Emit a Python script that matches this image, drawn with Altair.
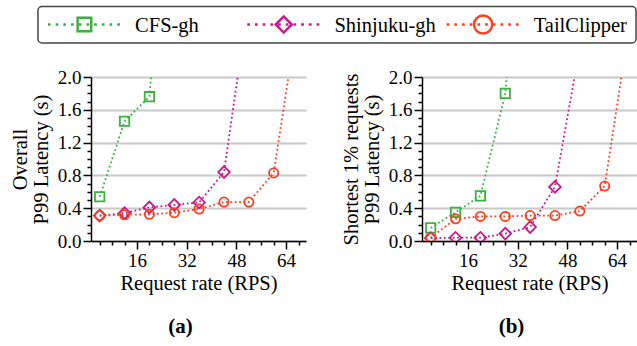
import altair as alt
import pandas as pd

series = ["CFS-gh", "Shinjuku-gh", "TailClipper"]
colors = ["#3cb043", "#c51b8a", "#ff3d1f"]
shapes = ["square", "diamond", "circle"]
marker_sizes = [88, 135, 85]
legend_marker_sizes = [185, 330, 200]
rates = [4, 12, 20, 28, 36, 44, 52, 60, 68]

overall_cfs = [0.54, 1.46, 1.76, 5.6]
overall_shinjuku = [0.31, 0.34, 0.41, 0.44, 0.47, 0.84, 2.95]
overall_tail = [0.31, 0.32, 0.325, 0.345, 0.39, 0.475, 0.475, 0.83, 2.8]
short_cfs = [0.16, 0.35, 0.55, 1.80, 5.0]
short_shinjuku = [0.035, 0.04, 0.04, 0.09, 0.17, 0.66, 2.36]
short_tail = [0.04, 0.27, 0.30, 0.30, 0.31, 0.31, 0.365, 0.67, 2.64]

x_major = [16, 32, 48, 64]
x_minor = [4, 8, 12, 20, 24, 28, 36, 40, 44, 52, 56, 60, 68]
y_major = [0.0, 0.4, 0.8, 1.2, 1.6, 2.0]
y_minor = [0.1, 0.2, 0.3, 0.5, 0.6, 0.7, 0.9, 1.0, 1.1, 1.3, 1.4, 1.5,
           1.7, 1.8, 1.9]

FONT = "Liberation Serif"


def frame(vals_list):
    rows = []
    for s, vals in zip(series, vals_list):
        for r, v in zip(rates, vals):
            rows.append({"series": s, "rate": r, "lat": v})
    return pd.DataFrame(rows)


df_a = frame([overall_cfs, overall_shinjuku, overall_tail])
df_b = frame([short_cfs, short_shinjuku, short_tail])

xs = alt.Scale(domain=[1.2, 70.4], nice=False, zero=False)
ys = alt.Scale(domain=[0, 2], nice=False)
cs = alt.Scale(domain=series, range=colors)

# ---------------- legend (drawn as its own small chart) ----------------
leg_df = pd.DataFrame({"series": series, "slot": list(range(len(series)))})
lx = alt.Scale(domain=[0.266, 3], nice=False, zero=False)
leg_base = alt.Chart(leg_df).transform_calculate(
    line_start="datum.slot + 0.05",
    line_end="datum.slot + 0.417",
    marker="datum.slot + 0.233",
    text_x="datum.slot + 0.487",
)
box = alt.Chart(pd.DataFrame({"a": [0], "b": [3]})).mark_rect(
    fill="white", stroke="#444444", strokeWidth=1.5, cornerRadius=4
).encode(
    x=alt.X("a:Q", scale=lx, axis=None), x2="b:Q",
    y=alt.value(0.5), y2=alt.value(37),
)
leg_lines = leg_base.mark_rule(strokeDash=[2.7, 5], strokeWidth=2.7).encode(
    x=alt.X("line_start:Q", scale=lx, axis=None), x2="line_end:Q",
    y=alt.value(18.5),
    color=alt.Color("series:N", scale=cs, legend=None),
)
leg_marks = leg_base.mark_point(filled=False, strokeWidth=2.5, opacity=1).encode(
    x=alt.X("marker:Q", scale=lx, axis=None),
    y=alt.value(18.5),
    color=alt.Color("series:N", scale=cs, legend=None),
    shape=alt.Shape("series:N", scale=alt.Scale(domain=series, range=shapes), legend=None),
    size=alt.Size("series:N", scale=alt.Scale(domain=series, range=legend_marker_sizes),
                  legend=None),
)
leg_text = leg_base.mark_text(align="left", baseline="middle", font=FONT,
                              fontSize=20.5, color="black").encode(
    x=alt.X("text_x:Q", scale=lx, axis=None),
    y=alt.value(19.5),
    text="series:N",
)
legend_chart = alt.layer(box, leg_lines, leg_marks, leg_text).properties(
    width=545, height=37
)


def panel(df, ytitle, label):
    base = alt.Chart(df)
    lines = base.mark_line(clip=True, strokeDash=[1.8, 2.6], strokeWidth=1.8).encode(
        x=alt.X("rate:Q", scale=xs,
                axis=alt.Axis(values=x_major, title="Request rate (RPS)", tickSize=8,
                              grid=False, orient="bottom", titlePadding=3)),
        y=alt.Y("lat:Q", scale=ys,
                axis=alt.Axis(values=y_major, format=".1f", title=ytitle, tickSize=8,
                              grid=True, orient="left", titlePadding=6,
                              titleLineHeight=21)),
        color=alt.Color("series:N", scale=cs, legend=None),
        order="rate:Q",
    )
    layers = [lines]
    for s, shp, sz in zip(series, shapes, marker_sizes):
        layers.append(
            base.transform_filter(alt.datum.series == s)
            .mark_point(clip=True, filled=False, strokeWidth=1.8, opacity=1,
                        shape=shp, size=sz)
            .encode(
                x=alt.X("rate:Q", scale=xs, axis=None),
                y=alt.Y("lat:Q", scale=ys, axis=None),
                color=alt.Color("series:N", scale=cs, legend=None),
            )
        )
    minor = base.mark_point(opacity=0, clip=True).encode(
        x=alt.X("rate:Q", scale=xs,
                axis=alt.Axis(values=x_minor, labels=False, domain=False, grid=False,
                              tickSize=4, title=None, orient="bottom")),
        y=alt.Y("lat:Q", scale=ys,
                axis=alt.Axis(values=y_minor, labels=False, domain=False, grid=False,
                              tickSize=4, title=None, orient="left")),
    )
    layers.append(minor)
    return alt.layer(*layers).resolve_axis(
        x="independent", y="independent"
    ).properties(
        width=215, height=164,
        title=alt.Title(label, orient="bottom", anchor="middle", dx=-18, offset=22,
                        fontSize=21, fontWeight="bold", font=FONT, color="black"),
    )


left = panel(df_a, ["Overall", "P99 Latency (s)"], "(a)")
right = panel(df_b, ["Shortest 1% requests", "P99 Latency (s)"], "(b)")

panels = alt.hconcat(left, right, spacing=35)

chart = alt.vconcat(legend_chart, panels, spacing=24).resolve_scale(
    color="shared", x="independent"
).properties(
    padding={"left": 10, "top": 5, "right": 0, "bottom": 4}
).configure_axis(
    labelFont=FONT, labelFontSize=19, labelColor="black", labelPadding=2,
    titleFont=FONT, titleFontSize=20.5, titleFontWeight="normal", titleColor="black",
    domainColor="black", domainWidth=1.5, tickColor="black", tickWidth=1.5,
    gridColor="#c8c8c8", gridWidth=2,
).configure_view(strokeWidth=0)

chart.save("out.html", embed_options={"renderer": "svg", "actions": False})
